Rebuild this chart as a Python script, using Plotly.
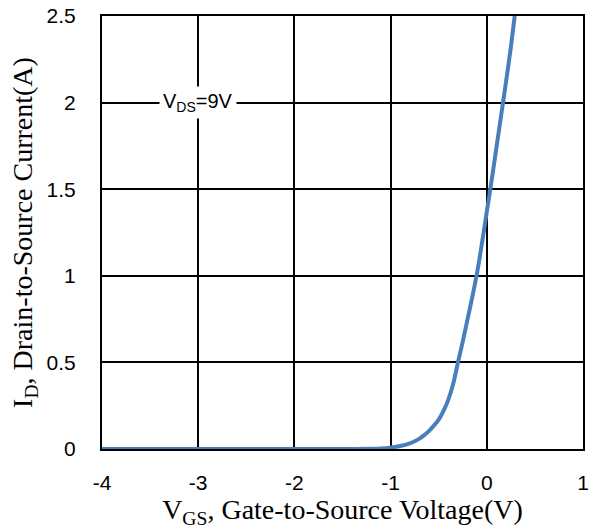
import plotly.graph_objects as go

# Transfer characteristic: drain current vs gate-source voltage at VDS = 9 V
vgs = [-4.0, -3.0, -2.0, -1.5, -1.2, -1.1, -1.0, -0.9, -0.8, -0.75, -0.7,
       -0.65, -0.6, -0.55, -0.5, -0.45, -0.4, -0.35, -0.3, -0.25, -0.2,
       -0.15, -0.1, -0.05, 0.0, 0.05, 0.1, 0.15, 0.2, 0.25, 0.29]
id_a = [0.0, 0.0, 0.0, 0.0, 0.001, 0.003, 0.008, 0.017, 0.033, 0.045, 0.06,
        0.08, 0.105, 0.135, 0.17, 0.22, 0.285, 0.375, 0.5, 0.62, 0.75,
        0.88, 1.02, 1.19, 1.37, 1.55, 1.74, 1.93, 2.12, 2.32, 2.5]

x_ticks = [-4, -3, -2, -1, 0, 1]
x_tick_text = ["-4", "-3", "-2", "-1", "0", "1"]
y_ticks = [0, 0.5, 1, 1.5, 2, 2.5]
y_tick_text = ["0", "0.5", "1", "1.5", "2", "2.5"]

fig = go.Figure()
fig.add_trace(go.Scatter(
    x=vgs, y=id_a, mode="lines",
    line=dict(color="#4a7ebb", width=4, shape="spline", smoothing=0.8),
    hoverinfo="skip", showlegend=False,
))

tick_font = dict(family="Liberation Sans, Arial, sans-serif", size=21, color="#000000")
title_font = dict(family="Liberation Serif, Times New Roman, serif", size=28, color="#000000")

fig.update_xaxes(
    range=[-4, 1], tickvals=x_ticks, ticktext=x_tick_text, ticks="", showgrid=True,
    gridcolor="#000000", gridwidth=2, zeroline=False, automargin=False,
    showline=True, linecolor="#000000", linewidth=2, mirror=True,
    tickfont=tick_font, ticklabelstandoff=14,
    title=dict(text="V<sub>GS</sub>, Gate-to-Source Voltage(V)", font=title_font, standoff=2),
)
fig.update_yaxes(
    range=[0, 2.5], tickvals=y_ticks, ticktext=y_tick_text, ticks="", showgrid=True,
    gridcolor="#000000", gridwidth=2, zeroline=False, automargin=False,
    showline=True, linecolor="#000000", linewidth=2, mirror=True,
    tickfont=tick_font, ticklabelstandoff=20,
    title=dict(text="I<sub>D</sub>, Drain-to-Source Current(A)", font=title_font, standoff=6),
)

fig.add_annotation(
    x=-3, y=2, xref="x", yref="y",
    text="V<sub>DS</sub>=9V", showarrow=False,
    font=dict(family="Liberation Sans, Arial, sans-serif", size=20, color="#000000"),
    bgcolor="#ffffff", borderpad=3, xshift=0,
)

fig.update_layout(
    width=592, height=530,
    margin=dict(l=102, r=9, t=16, b=81),
    paper_bgcolor="#ffffff", plot_bgcolor="#ffffff",
)

fig.write_html("out.html")
